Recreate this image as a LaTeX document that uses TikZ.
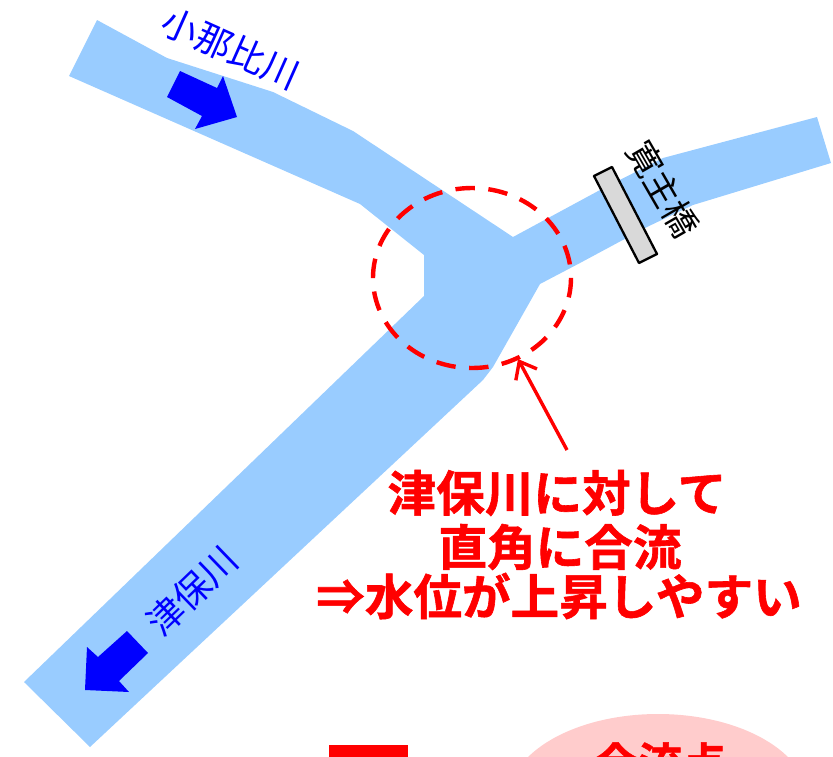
\documentclass[tikz,border=0pt]{standalone}
\usepackage{fontspec}
\usetikzlibrary{arrows.meta}
\setmainfont[BoldFont={Noto Sans CJK JP Bold},BoldFeatures={FakeBold=1.2}]{Noto Sans CJK JP}
\definecolor{river}{HTML}{99CCFF}
\definecolor{pinkfill}{HTML}{FFCCCC}
\definecolor{bridgegray}{HTML}{D9D9D9}
\tikzset{
  flowarrow/.style={fill=blue,draw=none},
  rivername/.style={text=blue,font=\fontsize{36.5}{37}\selectfont,inner sep=0pt},
  bridgename/.style={text=black,font=\fontsize{35}{35}\selectfont,inner sep=0pt},
  note/.style={text=red,font=\fontsize{48.6}{54}\selectfont\bfseries,inner sep=0pt,align=center},
  dashring/.style={draw=red,line width=4.4pt,dash pattern=on 19.5pt off 13.5pt}
}
\begin{document}
\begin{tikzpicture}[x=1pt,y=-1pt]
\useasboundingbox (0,0) rectangle (833,756);
\clip (0,0) rectangle (833,756);
% river
\fill[river] (97,20) -- (167,58) -- (273,92) -- (353,131) -- (513,237) -- (600,190) -- (663,158) -- (817,117) -- (831,163) -- (693,205) -- (647,227) -- (580,263) -- (540,284) -- (493,367) -- (483,380) -- (90,747) -- (24,682) -- (424,296) -- (424,255) -- (360,204) -- (69,76) -- cycle;
% bridge
\draw[fill=bridgegray,draw=black,line width=2.3pt,line join=round] (594,176) -- (612,167) -- (657,254) -- (639,263) -- cycle;
% flow arrows
\fill[flowarrow] (180,71) -- (217,88) -- (223,76) -- (237,117) -- (195,129) -- (202,116) -- (167,97) -- cycle;
\fill[flowarrow] (127,631) -- (148,653) -- (119,681) -- (129,692) -- (85,690) -- (87,647) -- (98,657) -- cycle;
% dashed ring
\draw[dashring] (472,278) ellipse [x radius=99,y radius=90];
% pointer
\coordinate (ptrA) at (567,450);
\coordinate (ptrB) at (518,359);
\draw[red,line width=3.4pt,-{Straight Barb[length=15pt,width=24pt]}] (ptrA) -- (ptrB);
% labels
\node[rivername,rotate=-24] (r1) at (231,48.5) {小那比川};
\node[rivername,rotate=44] (r2) at (192,591) {津保川};
\node[bridgename,rotate=-60] (b1) at (663,189) {寛主橋};
\node[note] (n1) at (557,493) {津保川に対して};
\node[note] (n2) at (560,547) {直角に合流};
\node[note] (n3) at (559,596) {⇒水位が上昇しやすい};
% bottom
\fill[red] (329,745) rectangle (408,770);
\fill[pinkfill] (658,800) ellipse [x radius=150,y radius=86];
\node[text=red,font=\fontsize{44}{44}\selectfont\bfseries,inner sep=0pt] (n4) at (660,763) {合流点};
\end{tikzpicture}
\end{document}
